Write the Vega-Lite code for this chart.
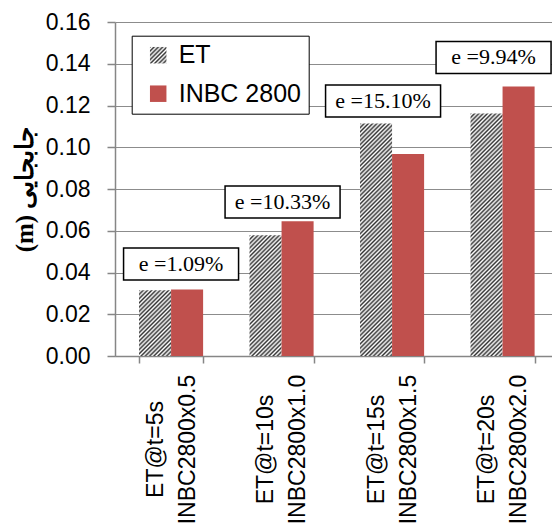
{
  "$schema": "https://vega.github.io/schema/vega-lite/v6.json",
  "width": 437,
  "height": 334,
  "autosize": {"type": "none"},
  "padding": {"left": 115, "top": 22, "right": 0, "bottom": 168},
  "background": "white",
  "config": {"view": {"stroke": null}},
  "params": [
    {"name": "hs", "value": [
      {"offset":0,"color":"#333"},{"offset":0.005,"color":"#fff"},{"offset":0.01,"color":"#333"},{"offset":0.015,"color":"#fff"},{"offset":0.02,"color":"#333"},{"offset":0.025,"color":"#fff"},{"offset":0.03,"color":"#333"},{"offset":0.035,"color":"#fff"},{"offset":0.04,"color":"#333"},{"offset":0.045,"color":"#fff"},
      {"offset":0.05,"color":"#333"},{"offset":0.055,"color":"#fff"},{"offset":0.06,"color":"#333"},{"offset":0.065,"color":"#fff"},{"offset":0.07,"color":"#333"},{"offset":0.075,"color":"#fff"},{"offset":0.08,"color":"#333"},{"offset":0.085,"color":"#fff"},{"offset":0.09,"color":"#333"},{"offset":0.095,"color":"#fff"},
      {"offset":0.1,"color":"#333"},{"offset":0.105,"color":"#fff"},{"offset":0.11,"color":"#333"},{"offset":0.115,"color":"#fff"},{"offset":0.12,"color":"#333"},{"offset":0.125,"color":"#fff"},{"offset":0.13,"color":"#333"},{"offset":0.135,"color":"#fff"},{"offset":0.14,"color":"#333"},{"offset":0.145,"color":"#fff"},
      {"offset":0.15,"color":"#333"},{"offset":0.155,"color":"#fff"},{"offset":0.16,"color":"#333"},{"offset":0.165,"color":"#fff"},{"offset":0.17,"color":"#333"},{"offset":0.175,"color":"#fff"},{"offset":0.18,"color":"#333"},{"offset":0.185,"color":"#fff"},{"offset":0.19,"color":"#333"},{"offset":0.195,"color":"#fff"},
      {"offset":0.2,"color":"#333"},{"offset":0.205,"color":"#fff"},{"offset":0.21,"color":"#333"},{"offset":0.215,"color":"#fff"},{"offset":0.22,"color":"#333"},{"offset":0.225,"color":"#fff"},{"offset":0.23,"color":"#333"},{"offset":0.235,"color":"#fff"},{"offset":0.24,"color":"#333"},{"offset":0.245,"color":"#fff"},
      {"offset":0.25,"color":"#333"},{"offset":0.255,"color":"#fff"},{"offset":0.26,"color":"#333"},{"offset":0.265,"color":"#fff"},{"offset":0.27,"color":"#333"},{"offset":0.275,"color":"#fff"},{"offset":0.28,"color":"#333"},{"offset":0.285,"color":"#fff"},{"offset":0.29,"color":"#333"},{"offset":0.295,"color":"#fff"},
      {"offset":0.3,"color":"#333"},{"offset":0.305,"color":"#fff"},{"offset":0.31,"color":"#333"},{"offset":0.315,"color":"#fff"},{"offset":0.32,"color":"#333"},{"offset":0.325,"color":"#fff"},{"offset":0.33,"color":"#333"},{"offset":0.335,"color":"#fff"},{"offset":0.34,"color":"#333"},{"offset":0.345,"color":"#fff"},
      {"offset":0.35,"color":"#333"},{"offset":0.355,"color":"#fff"},{"offset":0.36,"color":"#333"},{"offset":0.365,"color":"#fff"},{"offset":0.37,"color":"#333"},{"offset":0.375,"color":"#fff"},{"offset":0.38,"color":"#333"},{"offset":0.385,"color":"#fff"},{"offset":0.39,"color":"#333"},{"offset":0.395,"color":"#fff"},
      {"offset":0.4,"color":"#333"},{"offset":0.405,"color":"#fff"},{"offset":0.41,"color":"#333"},{"offset":0.415,"color":"#fff"},{"offset":0.42,"color":"#333"},{"offset":0.425,"color":"#fff"},{"offset":0.43,"color":"#333"},{"offset":0.435,"color":"#fff"},{"offset":0.44,"color":"#333"},{"offset":0.445,"color":"#fff"},
      {"offset":0.45,"color":"#333"},{"offset":0.455,"color":"#fff"},{"offset":0.46,"color":"#333"},{"offset":0.465,"color":"#fff"},{"offset":0.47,"color":"#333"},{"offset":0.475,"color":"#fff"},{"offset":0.48,"color":"#333"},{"offset":0.485,"color":"#fff"},{"offset":0.49,"color":"#333"},{"offset":0.495,"color":"#fff"},
      {"offset":0.5,"color":"#333"},{"offset":0.505,"color":"#fff"},{"offset":0.51,"color":"#333"},{"offset":0.515,"color":"#fff"},{"offset":0.52,"color":"#333"},{"offset":0.525,"color":"#fff"},{"offset":0.53,"color":"#333"},{"offset":0.535,"color":"#fff"},{"offset":0.54,"color":"#333"},{"offset":0.545,"color":"#fff"},
      {"offset":0.55,"color":"#333"},{"offset":0.555,"color":"#fff"},{"offset":0.56,"color":"#333"},{"offset":0.565,"color":"#fff"},{"offset":0.57,"color":"#333"},{"offset":0.575,"color":"#fff"},{"offset":0.58,"color":"#333"},{"offset":0.585,"color":"#fff"},{"offset":0.59,"color":"#333"},{"offset":0.595,"color":"#fff"},
      {"offset":0.6,"color":"#333"},{"offset":0.605,"color":"#fff"},{"offset":0.61,"color":"#333"},{"offset":0.615,"color":"#fff"},{"offset":0.62,"color":"#333"},{"offset":0.625,"color":"#fff"},{"offset":0.63,"color":"#333"},{"offset":0.635,"color":"#fff"},{"offset":0.64,"color":"#333"},{"offset":0.645,"color":"#fff"},
      {"offset":0.65,"color":"#333"}
    ]}
  ],
  "datasets": {
    "bars": [
      {"cat": "ET@t=5s|INBC2800x0.5", "series": "ET", "v": 0.0315},
      {"cat": "ET@t=5s|INBC2800x0.5", "series": "INBC 2800", "v": 0.0318},
      {"cat": "ET@t=10s|INBC2800x1.0", "series": "ET", "v": 0.0578},
      {"cat": "ET@t=10s|INBC2800x1.0", "series": "INBC 2800", "v": 0.0645},
      {"cat": "ET@t=15s|INBC2800x1.5", "series": "ET", "v": 0.1114},
      {"cat": "ET@t=15s|INBC2800x1.5", "series": "INBC 2800", "v": 0.0968},
      {"cat": "ET@t=20s|INBC2800x2.0", "series": "ET", "v": 0.1162},
      {"cat": "ET@t=20s|INBC2800x2.0", "series": "INBC 2800", "v": 0.1291}
    ],
    "ann": [
      {"cat": "ET@t=5s|INBC2800x0.5", "y": 0.0441, "label": "e =1.09%"},
      {"cat": "ET@t=10s|INBC2800x1.0", "y": 0.0738, "label": "e =10.33%"},
      {"cat": "ET@t=15s|INBC2800x1.5", "y": 0.1222, "label": "e =15.10%"},
      {"cat": "ET@t=20s|INBC2800x2.0", "y": 0.1430, "label": "e =9.94%"}
    ]
  },
  "encoding": {
    "x": {
      "field": "cat",
      "type": "nominal",
      "sort": null,
      "scale": {
        "domain": ["ET@t=5s|INBC2800x0.5", "ET@t=10s|INBC2800x1.0", "ET@t=15s|INBC2800x1.5", "ET@t=20s|INBC2800x2.0"],
        "paddingInner": 0.42,
        "paddingOuter": 0.1874,
        "align": 0.58
      },
      "axis": {
        "title": null,
        "labelExpr": "datum.value ? split(datum.value, '|') : ''",
        "labelAngle": 270,
        "labelAlign": "center",
        "labelBaseline": "middle",
        "labelPadding": 86,
        "labelOffset": -16,
        "labelLineHeight": 32,
        "labelFont": "Liberation Sans",
        "labelFontSize": 23,
        "labelColor": "black",
        "labelOverlap": false,
        "labelLimit": 0,
        "tickBand": "extent",
        "tickSize": 7,
        "tickColor": "#868686",
        "tickWidth": 1.5,
        "domainColor": "#868686",
        "domainWidth": 1.5,
        "grid": false
      }
    }
  },
  "layer": [
    {
      "data": {"name": "bars"},
      "mark": {"type": "bar"},
      "encoding": {
        "xOffset": {"field": "series", "type": "nominal", "sort": null, "scale": {"domain": ["ET", "INBC 2800"]}},
        "y": {
          "field": "v",
          "type": "quantitative",
          "scale": {"domain": [0, 0.16], "nice": false},
          "axis": {
            "values": [0, 0.02, 0.04, 0.06, 0.08, 0.1, 0.12, 0.14, 0.16],
            "format": ".2f",
            "title": "(m) جابجایی",
            "titleFont": "Liberation Serif",
            "titleFontSize": 25,
            "titleFontWeight": "bold",
            "titleColor": "black",
            "titlePadding": 8,
            "labelFont": "Liberation Sans",
            "labelFontSize": 23,
            "labelColor": "black",
            "labelPadding": 17,
            "tickSize": 8,
            "tickColor": "#868686",
            "tickWidth": 1.5,
            "domainColor": "#868686",
            "domainWidth": 1.5,
            "gridColor": "#8c8c8c",
            "gridWidth": 1
          }
        },
        "fill": {
          "field": "series",
          "type": "nominal",
          "scale": {
            "domain": ["ET", "INBC 2800"],
            "range": [{"expr": "{gradient:'linear',x1:0,y1:0,x2:12.86,y2:12.86,stops:hs}"}, "#C0504D"]
          },
          "legend": {
            "orient": "none",
            "legendX": 16.7,
            "legendY": 13.7,
            "title": null,
            "symbolType": "square",
            "symbolSize": 272,
            "symbolStrokeWidth": 0,
            "symbolOffset": 7,
            "symbolOpacity": 1,
            "labelOffset": 8,
            "labelFont": "Liberation Sans",
            "labelFontSize": 25,
            "labelColor": "black",
            "padding": 7,
            "rowPadding": 12.5,
            "strokeColor": "black",
            "fillColor": "white"
          },
          "condition": [
            {"test": "datum.series === 'ET' && datum.cat === 'ET@t=5s|INBC2800x0.5'", "value": {"expr": "{gradient:'linear',x1:0,y1:0,x2:2.5408,y2:5.2133,stops:hs}"}},
            {"test": "datum.series === 'ET' && datum.cat === 'ET@t=10s|INBC2800x1.0'", "value": {"expr": "{gradient:'linear',x1:0,y1:0,x2:0.8724,y2:3.2844,stops:hs}"}},
            {"test": "datum.series === 'ET' && datum.cat === 'ET@t=15s|INBC2800x1.5'", "value": {"expr": "{gradient:'linear',x1:0,y1:0,x2:0.2467,y2:1.7904,stops:hs}"}},
            {"test": "datum.series === 'ET' && datum.cat === 'ET@t=20s|INBC2800x2.0'", "value": {"expr": "{gradient:'linear',x1:0,y1:0,x2:0.2271,y2:1.7190,stops:hs}"}}
          ]
        }
      }
    },
    {
      "data": {"name": "ann"},
      "mark": {
        "type": "point",
        "shape": "M-1,-0.278H1V0.278H-1Z",
        "size": 13225,
        "filled": true,
        "fill": "white",
        "stroke": "black",
        "strokeWidth": 1.5,
        "opacity": 1,
        "xOffset": {"expr": "datum.label === 'e =1.09%' ? 10 : datum.label === 'e =10.33%' ? 1 : -9"}
      },
      "encoding": {
        "y": {"field": "y", "type": "quantitative", "scale": {"domain": [0, 0.16], "nice": false}, "title": "(m) جابجایی"}
      }
    },
    {
      "data": {"name": "ann"},
      "mark": {
        "type": "text",
        "font": "Liberation Serif",
        "fontSize": 22,
        "fill": "black",
        "align": "center",
        "baseline": "middle",
        "xOffset": {"expr": "datum.label === 'e =1.09%' ? 10 : datum.label === 'e =10.33%' ? 1 : -9"}
      },
      "encoding": {
        "y": {"field": "y", "type": "quantitative", "scale": {"domain": [0, 0.16], "nice": false}, "title": "(m) جابجایی"},
        "text": {"field": "label"}
      }
    }
  ]
}
